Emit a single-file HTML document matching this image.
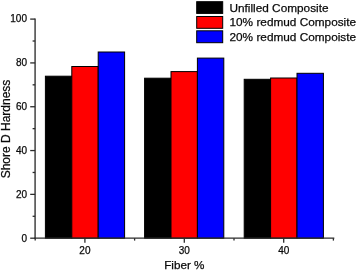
<!DOCTYPE html>
<html>
<head>
<meta charset="utf-8">
<title>Shore D Hardness</title>
<style>
html,body{margin:0;padding:0;background:#fff;}
body{width:357px;height:270px;overflow:hidden;position:relative;font-family:"Liberation Sans",Arial,sans-serif;color:#0a0a0a;-webkit-text-stroke:0.25px #0a0a0a;}
#c{position:absolute;left:0;top:0;width:357px;height:270px;overflow:hidden;background:#fff;}
svg{position:absolute;left:0;top:0;}
.t{position:absolute;font-size:10px;line-height:10px;white-space:nowrap;}
.yl{width:27px;text-align:right;}
.xl{width:40px;text-align:center;}
.lg{position:absolute;font-size:11.8px;line-height:12px;white-space:nowrap;}
.at{position:absolute;text-align:center;line-height:12px;white-space:nowrap;}
</style>
</head>
<body>
<div id="c">
<svg width="357" height="270" viewBox="0 0 357 270">
<rect x="45.4" y="76.2" width="26.4" height="162.0" fill="#000000" stroke="#000" stroke-width="1"/>
<rect x="71.8" y="66.5" width="26.4" height="171.7" fill="#ff0000" stroke="#000" stroke-width="1"/>
<rect x="98.2" y="52.0" width="26.4" height="186.2" fill="#0000ff" stroke="#000" stroke-width="1"/>
<rect x="144.6" y="78.2" width="26.4" height="160.0" fill="#000000" stroke="#000" stroke-width="1"/>
<rect x="171.0" y="71.6" width="26.4" height="166.6" fill="#ff0000" stroke="#000" stroke-width="1"/>
<rect x="197.4" y="58.1" width="26.4" height="180.1" fill="#0000ff" stroke="#000" stroke-width="1"/>
<rect x="244.2" y="79.3" width="26.4" height="158.9" fill="#000000" stroke="#000" stroke-width="1"/>
<rect x="270.6" y="78.0" width="26.4" height="160.2" fill="#ff0000" stroke="#000" stroke-width="1"/>
<rect x="297.0" y="73.3" width="26.4" height="164.9" fill="#0000ff" stroke="#000" stroke-width="1"/>
<rect x="196.7" y="1.7" width="26" height="11.7" fill="#000000" stroke="#000" stroke-width="1"/>
<rect x="196.7" y="16.5" width="26" height="11.8" fill="#ff0000" stroke="#000" stroke-width="1"/>
<rect x="196.7" y="30.8" width="26" height="11.9" fill="#0000ff" stroke="#000" stroke-width="1"/>
<g stroke="#2b2b2b" stroke-width="1.3" fill="none">
<path d="M35.1 18.45V238.85" stroke="#585858" stroke-width="1.7"/>
<path d="M34.45 238.2H334.3"/>
<path d="M30.2 238.20H35.1"/>
<path d="M30.2 194.38H35.1"/>
<path d="M30.2 150.56H35.1"/>
<path d="M30.2 106.74H35.1"/>
<path d="M30.2 62.92H35.1"/>
<path d="M30.2 19.10H35.1"/>
<path d="M32.6 216.29H35.1"/>
<path d="M32.6 172.47H35.1"/>
<path d="M32.6 128.65H35.1"/>
<path d="M32.6 84.83H35.1"/>
<path d="M32.6 41.01H35.1"/>
<path d="M84.90 238.2V242.80"/>
<path d="M184.30 238.2V242.80"/>
<path d="M283.70 238.2V242.80"/>
<path d="M35.20 238.2V240.60"/>
<path d="M134.60 238.2V240.60"/>
<path d="M234.00 238.2V240.60"/>
<path d="M333.40 238.2V240.60"/>
</g>
</svg>
<!-- y tick labels -->
<div class="t yl" style="left:0px;top:14px;">100</div>
<div class="t yl" style="left:0px;top:58px;">80</div>
<div class="t yl" style="left:0px;top:102px;">60</div>
<div class="t yl" style="left:0px;top:146px;">40</div>
<div class="t yl" style="left:0px;top:190px;">20</div>
<div class="t yl" style="left:0px;top:234px;">0</div>
<!-- x tick labels -->
<div class="t xl" style="left:64.9px;top:246px;">20</div>
<div class="t xl" style="left:164.3px;top:246px;">30</div>
<div class="t xl" style="left:263.7px;top:246px;">40</div>
<!-- axis titles -->
<div class="at" style="width:40px;font-size:11.7px;left:164.2px;top:259px;">Fiber %</div>
<div class="at" style="width:100px;height:12px;font-size:12px;left:-43.6px;top:122.8px;transform-origin:50% 50%;transform:rotate(-90deg);">Shore D Hardness</div>
<!-- legend -->
<div class="lg" style="left:229.5px;top:2px;">Unfilled Composite</div>
<div class="lg" style="left:229.5px;top:16px;">10% redmud Composite</div>
<div class="lg" style="left:229.5px;top:31px;">20% redmud Compoiste</div>
</div>
</body>
</html>
